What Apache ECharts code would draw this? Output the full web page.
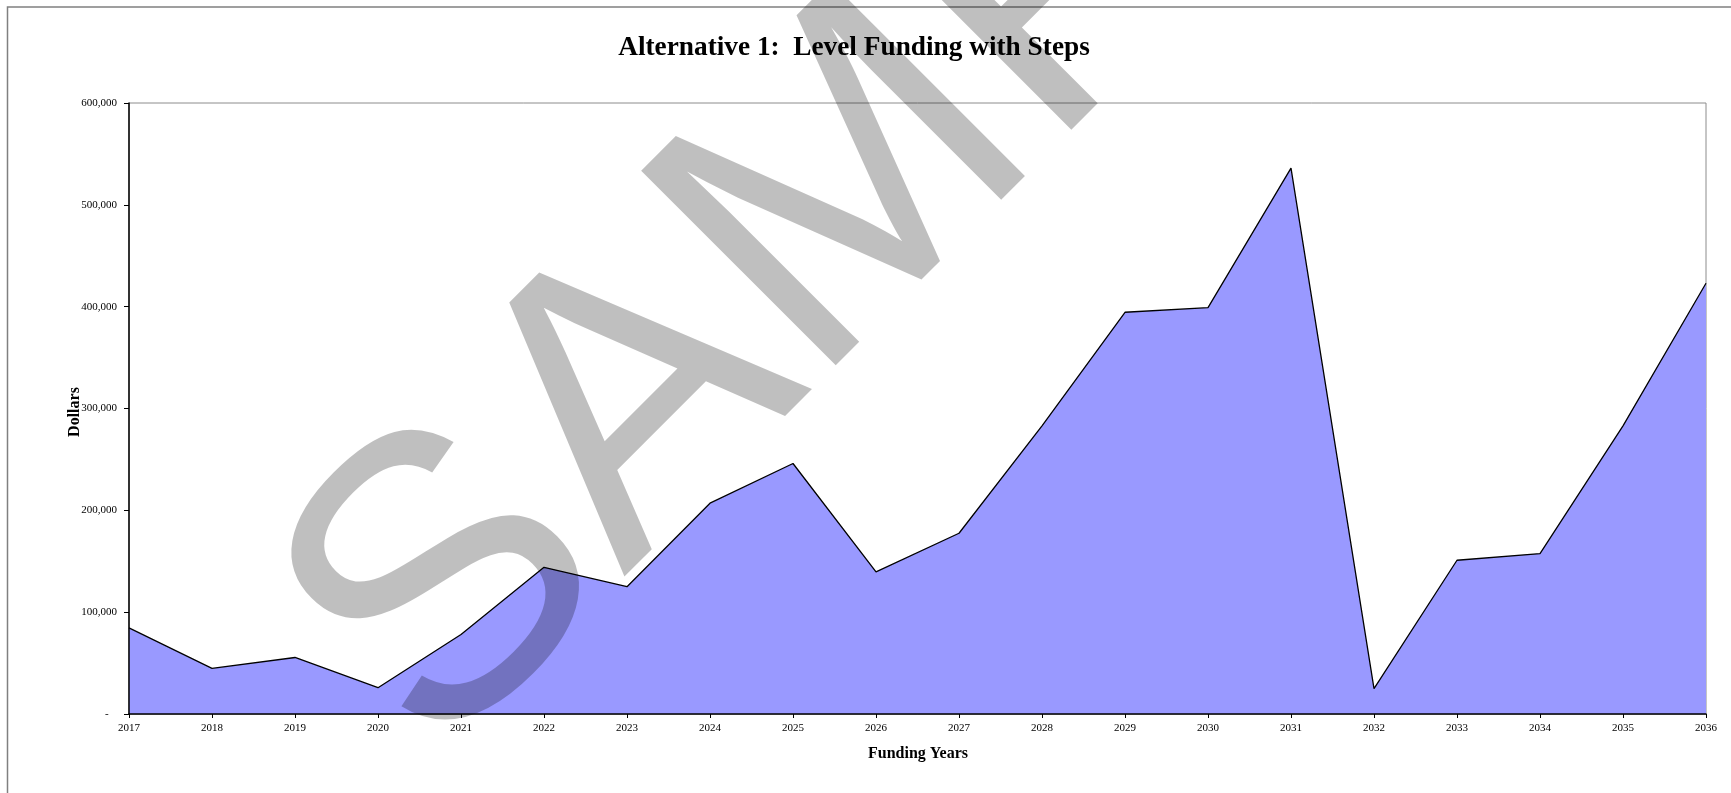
<!DOCTYPE html>
<html>
<head>
<meta charset="utf-8">
<script src="https://cdn.jsdelivr.net/npm/echarts@6/dist/echarts.min.js"></script>
<style>
    html, body { margin: 0; padding: 0; background: #fff; }
    #chart { width: 1731px; height: 793px; }
</style>
</head>
<body>
<div id="chart"></div>
<script>
// funding years on the x axis
const years = ['2017', '2018', '2019', '2020', '2021', '2022', '2023', '2024', '2025', '2026',
    '2027', '2028', '2029', '2030', '2031', '2032', '2033', '2034', '2035', '2036'];
// dollars per year
const dollars = [84500, 44800, 55500, 25800, 78000, 144000, 125000, 207000, 246000, 139500,
    177500, 283000, 394500, 399000, 536000, 25000, 151000, 157500, 283000, 423000];
// y axis range
const yMin = 0, yMax = 600000, yStep = 100000;

const serif = 'Liberation Serif, Times New Roman, serif';

function fmtDollars(v) {
    // excel style: zero shows as a dash
    if (v === 0) return '-   ';
    return v.toLocaleString('en-US');
}

const chart = echarts.init(document.getElementById('chart'));

const option = {
    animation: false,
    backgroundColor: '#fff',
    grid: {
        left: 129,
        right: 25,
        top: 103,
        bottom: 79,
        show: true,
        borderColor: '#8c8c8c',
        borderWidth: 1,
        backgroundColor: 'transparent',
    },
    xAxis: {
        type: 'category',
        data: years,
        boundaryGap: false,
        z: 5,
        axisLine: { lineStyle: { color: '#000', width: 1.5 } },
        axisTick: { show: true, length: 4, interval: 0, lineStyle: { color: '#000' } },
        axisLabel: {
            interval: 0,
            margin: 9,
            color: '#000',
            fontFamily: serif,
            fontSize: 11,
        },
        splitLine: { show: false },
    },
    yAxis: {
        type: 'value',
        min: yMin,
        max: yMax,
        interval: yStep,
        z: 5,
        axisLine: { show: true, lineStyle: { color: '#000', width: 1.5 } },
        axisTick: { show: true, length: 5, lineStyle: { color: '#000' } },
        axisLabel: {
            margin: 12,
            color: '#000',
            fontFamily: serif,
            fontSize: 11,
            formatter: fmtDollars,
        },
        splitLine: { show: false },
    },
    series: [
        {
            name: 'Dollars',
            type: 'line',
            data: dollars,
            symbol: 'none',
            lineStyle: { color: '#000', width: 1.3 },
            areaStyle: { color: '#9999ff', opacity: 1 },
        },
    ],
    graphic: [
        {
            // outer chart frame
            type: 'rect',
            shape: { x: 7.5, y: 7, width: 1800, height: 900 },
            style: { fill: 'none', stroke: '#808080', lineWidth: 1.5 },
            silent: true,
        },
        {
            type: 'text',
            x: 854,
            y: 48,
            style: {
                text: 'Alternative 1:  Level Funding with Steps',
                font: 'bold 27.3px ' + serif,
                fill: '#000',
                textAlign: 'center',
                textVerticalAlign: 'middle',
            },
        },
        {
            type: 'text',
            x: 75,
            y: 412,
            rotation: Math.PI / 2,
            style: {
                text: 'Dollars',
                font: 'bold 16px ' + serif,
                fill: '#000',
                textAlign: 'center',
                textVerticalAlign: 'middle',
            },
        },
        {
            type: 'text',
            x: 918,
            y: 754,
            style: {
                text: 'Funding Years',
                font: 'bold 16px ' + serif,
                fill: '#000',
                textAlign: 'center',
                textVerticalAlign: 'middle',
            },
        },
        {
            // SAMPLE watermark over everything
            type: 'text',
            x: 931,
            y: 114,
            rotation: Math.PI / 4,
            z: 100,
            silent: true,
            style: {
                text: 'SAMPLE',
                font: '400px Liberation Sans, Arial, sans-serif',
                fill: 'rgba(0,0,0,0.25)',
                textAlign: 'center',
                textVerticalAlign: 'middle',
            },
        },
    ],
};

chart.setOption(option);
</script>
</body>
</html>
